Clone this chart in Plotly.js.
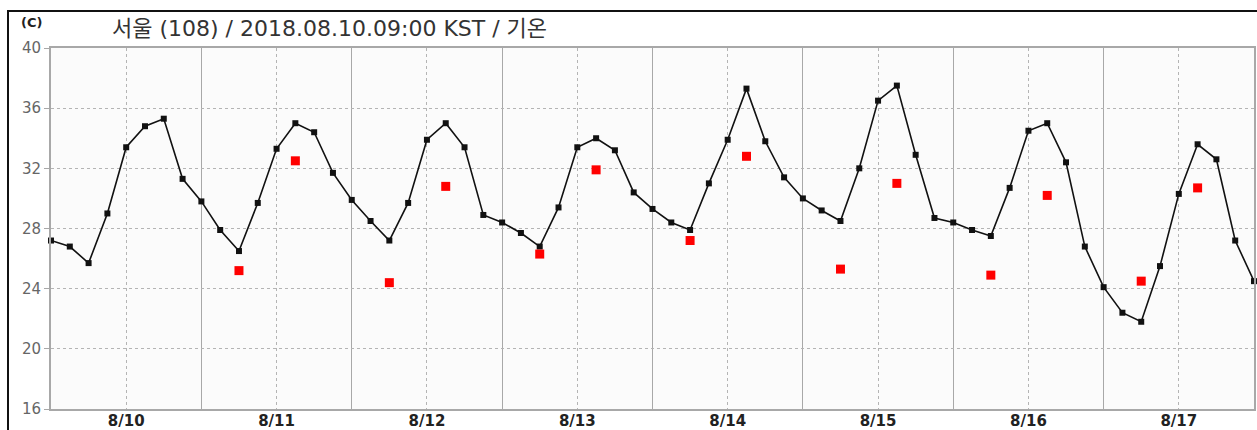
<!DOCTYPE html>
<html>
<head>
<meta charset="utf-8">
<script src="https://cdn.plot.ly/plotly-3.0.1.min.js"></script>
<style>
  html, body { margin: 0; padding: 0; background: #ffffff; }
  #wrap { position: relative; width: 1257px; height: 430px; overflow: hidden; }
  #frame { position: absolute; left: 7px; top: 10px; width: 1300px; height: 500px;
           border-left: 2px solid #111; border-top: 2px solid #111; box-sizing: border-box; pointer-events: none; }
  #chart { position: absolute; left: 0; top: 0; width: 1257px; height: 430px; }
</style>
</head>
<body>
<div id="wrap">
  <div id="chart"></div>
  <div id="frame"></div>
</div>
<script>
// 3-hourly temperature (°C), starting 2018-08-10 00:00, every 3 hours
const startTime = '2018-08-10 00:00';
const stepMs = 3 * 3600 * 1000;
const temps = [
  27.2, 26.8, 25.7, 29.0, 33.4, 34.8, 35.3, 31.3,
  29.8, 27.9, 26.5, 29.7, 33.3, 35.0, 34.4, 31.7,
  29.9, 28.5, 27.2, 29.7, 33.9, 35.0, 33.4, 28.9,
  28.4, 27.7, 26.8, 29.4, 33.4, 34.0, 33.2, 30.4,
  29.3, 28.4, 27.9, 31.0, 33.9, 37.3, 33.8, 31.4,
  30.0, 29.2, 28.5, 32.0, 36.5, 37.5, 32.9, 28.7,
  28.4, 27.9, 27.5, 30.7, 34.5, 35.0, 32.4, 26.8,
  24.1, 22.4, 21.8, 25.5, 30.3, 33.6, 32.6, 27.2,
  24.5
];

// red markers (forecast min at 06:00 and max at 15:00)
const redTimes = [
  '2018-08-11 06:00', '2018-08-11 15:00',
  '2018-08-12 06:00', '2018-08-12 15:00',
  '2018-08-13 06:00', '2018-08-13 15:00',
  '2018-08-14 06:00', '2018-08-14 15:00',
  '2018-08-15 06:00', '2018-08-15 15:00',
  '2018-08-16 06:00', '2018-08-16 15:00',
  '2018-08-17 06:00', '2018-08-17 15:00'
];
const redValues = [
  25.2, 32.5,
  24.4, 30.8,
  26.3, 31.9,
  27.2, 32.8,
  25.3, 31.0,
  24.9, 30.2,
  24.5, 30.7
];

// x tick labels (at noon)
const tickTimes = [
  '2018-08-10 12:00', '2018-08-11 12:00', '2018-08-12 12:00', '2018-08-13 12:00',
  '2018-08-14 12:00', '2018-08-15 12:00', '2018-08-16 12:00', '2018-08-17 12:00'
];
const tickLabels = ['8/10', '8/11', '8/12', '8/13', '8/14', '8/15', '8/16', '8/17'];
const yTicks = [16, 20, 24, 28, 32, 36, 40];

const titleText = '서울 (108) / 2018.08.10.09:00 KST / 기온';
const unitText = '(C)';

const traces = [
  {
    type: 'scatter',
    mode: 'lines+markers',
    x0: startTime,
    dx: stepMs,
    y: temps,
    line: { color: '#111111', width: 1.6 },
    marker: { symbol: 'square', size: 6, color: '#111111' },
    cliponaxis: false,
    hoverinfo: 'x+y'
  },
  {
    type: 'scatter',
    mode: 'markers',
    x: redTimes,
    y: redValues,
    marker: { symbol: 'square', size: 9, color: '#ff0000' },
    cliponaxis: false
  }
];

const layout = {
  width: 1257,
  height: 430,
  margin: { l: 51, r: 3, t: 48, b: 21, pad: 0 },
  paper_bgcolor: 'rgba(0,0,0,0)',
  plot_bgcolor: '#fbfbfb',
  showlegend: false,
  title: {
    text: titleText,
    xref: 'container', yref: 'container',
    x: 112 / 1257, xanchor: 'left',
    y: 1 - 28 / 430, yanchor: 'middle',
    font: { family: '"DejaVu Sans", "Noto Sans CJK KR", sans-serif', size: 22, color: '#333333' }
  },
  xaxis: {
    type: 'date',
    range: ['2018-08-10 00:00', '2018-08-18 00:00'],
    tickmode: 'array',
    tickvals: tickTimes,
    ticktext: tickLabels,
    ticks: '',
    showgrid: true,
    gridcolor: '#b4b4b4',
    gridwidth: 1,
    griddash: 'dot',
    minor: {
      tick0: '2018-08-10 00:00',
      dtick: 86400000,
      showgrid: true,
      gridcolor: '#a8a8a8',
      gridwidth: 1,
      griddash: 'solid',
      ticks: ''
    },
    showline: true,
    linecolor: '#a8a8a8',
    linewidth: 2,
    mirror: true,
    zeroline: false,
    tickfont: { family: '"DejaVu Sans", sans-serif', size: 15, color: '#222222', weight: 'bold' },
    ticklabelstandoff: -3
  },
  yaxis: {
    range: [16, 40],
    tickmode: 'array',
    tickvals: yTicks,
    ticks: 'outside',
    ticklen: 5,
    tickcolor: '#a8a8a8',
    showgrid: true,
    gridcolor: '#b4b4b4',
    gridwidth: 1,
    griddash: 'dot',
    showline: true,
    linecolor: '#a8a8a8',
    linewidth: 2,
    mirror: true,
    zeroline: false,
    tickfont: { family: '"DejaVu Sans", sans-serif', size: 15, color: '#666666' }
  },
  annotations: [
    {
      text: unitText,
      xref: 'paper', yref: 'paper',
      x: -32 / 1204, y: 1 + 26 / 361,
      xanchor: 'left', yanchor: 'middle',
      showarrow: false,
      font: { family: '"DejaVu Sans", sans-serif', size: 13, color: '#222222', weight: 'bold' }
    }
  ]
};

Plotly.newPlot('chart', traces, layout, { displayModeBar: false, staticPlot: true });
</script>
</body>
</html>
